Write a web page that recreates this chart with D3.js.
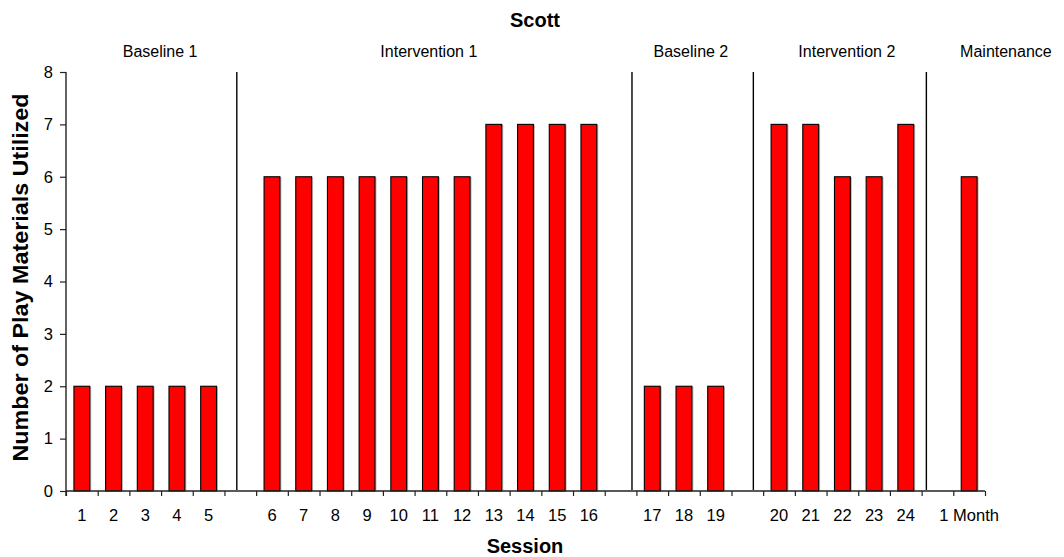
<!DOCTYPE html>
<html>
<head>
<meta charset="utf-8">
<script src="https://cdn.jsdelivr.net/npm/d3@7"></script>
<style>
  html, body { margin: 0; padding: 0; background: #fff; }
  text { font-family: "Liberation Sans", Arial, sans-serif; fill: #000; }
</style>
</head>
<body>
<svg id="chart" width="1064" height="557"></svg>
<script>
// ---- data ----
const chartTitle = "Scott";
const xTitle = "Session";
const yTitle = "Number of Play Materials Utilized";
// one slot per category; "" marks an empty gap slot between phases
const slotLabels = ["1","2","3","4","5","","6","7","8","9","10","11","12","13","14","15","16","","17","18","19","","20","21","22","23","24","","1 Month"];
const slotValues = [2,2,2,2,2,null,6,6,6,6,6,6,6,7,7,7,7,null,2,2,2,null,7,7,6,6,7,null,6];
const yTicks = [0,1,2,3,4,5,6,7,8];
const phaseNames = ["Baseline 1","Intervention 1","Baseline 2","Intervention 2","Maintenance"];
const phaseLabelAt = [2.97, 11.45, 19.72, 24.64, 29.66];   // in slot units
const phaseLineAt = [5.39, 17.86, 21.69, 27.15];           // in slot units

// ---- layout ----
const svg = d3.select("#chart");
const mLeft = 66, mRight = 985, mTop = 72, mBottom = 491;
const slotIdx = slotLabels.map((d, i) => i);

const x = d3.scaleBand().domain(slotIdx).range([mLeft, mRight]).paddingInner(0.5).paddingOuter(0.25);
const xs = d3.scaleLinear().domain([0, slotLabels.length]).range([mLeft, mRight]);
const y = d3.scaleLinear().domain([0, 8]).range([mBottom, mTop]);

// phase lines
svg.append("g").selectAll("line").data(phaseLineAt).join("line")
  .attr("x1", d => xs(d)).attr("x2", d => xs(d))
  .attr("y1", y(8)).attr("y2", y(0) - 1)
  .attr("stroke", "#000").attr("stroke-width", 1.4);

// bars (with faint shadow)
const bars = slotIdx.filter(i => slotValues[i] != null);
svg.append("g").selectAll("rect").data(bars).join("rect")
  .attr("x", i => x(i) + 1.5).attr("y", i => y(slotValues[i]) + 0.5)
  .attr("width", x.bandwidth()).attr("height", i => y(0) - y(slotValues[i]) - 0.5)
  .attr("fill", "#b8b8b8");
svg.append("g").selectAll("rect").data(bars).join("rect")
  .attr("x", i => x(i)).attr("y", i => y(slotValues[i]))
  .attr("width", x.bandwidth()).attr("height", i => y(0) - y(slotValues[i]))
  .attr("fill", "#ff0000").attr("stroke", "#000").attr("stroke-width", 1.1);

// y axis
const yAxis = svg.append("g").attr("transform", `translate(${mLeft},0)`)
  .call(d3.axisLeft(y).tickValues(yTicks).tickSize(6).tickPadding(7).tickFormat(d3.format("d")));
yAxis.select(".domain").attr("d", `M0,${mTop}V${mBottom + 5}`).attr("stroke", "#222").attr("stroke-width", 1.4);
yAxis.selectAll(".tick line").attr("stroke", "#222").attr("stroke-width", 1.2);
yAxis.selectAll("text").style("font-size", "16.5px").attr("fill", "#000");

// x axis: line + ticks at slot boundaries
const xAxis = svg.append("g").attr("transform", `translate(0,${mBottom})`)
  .call(d3.axisBottom(xs).tickValues(d3.range(0, slotLabels.length + 1)).tickSize(5).tickFormat(""));
xAxis.select(".domain").attr("d", `M${mLeft},0H${mRight}`).attr("stroke", "#222").attr("stroke-width", 1.4);
xAxis.selectAll(".tick line").attr("stroke", "#222").attr("stroke-width", 1.2);

// x tick labels (category names)
svg.append("g").selectAll("text").data(slotIdx.filter(i => slotLabels[i] !== "")).join("text")
  .attr("x", i => x(i) + x.bandwidth() / 2).attr("y", 521)
  .attr("text-anchor", "middle").style("font-size", "16.5px")
  .text(i => slotLabels[i]);

// phase labels
svg.append("g").selectAll("text").data(phaseNames).join("text")
  .attr("x", (d, i) => xs(phaseLabelAt[i])).attr("y", 57)
  .attr("text-anchor", "middle").style("font-size", "16px")
  .text(d => d);

// titles
svg.append("text").attr("x", 535).attr("y", 27).attr("text-anchor", "middle")
  .style("font-size", "20px").style("font-weight", "bold").text(chartTitle);
svg.append("text").attr("x", 525).attr("y", 553).attr("text-anchor", "middle")
  .style("font-size", "20px").style("font-weight", "bold").text(xTitle);
svg.append("text").attr("transform", "translate(27.5,277.5) rotate(-90)").attr("text-anchor", "middle")
  .style("font-size", "21.5px").style("font-weight", "bold")
  .attr("textLength", 368).attr("lengthAdjust", "spacingAndGlyphs").text(yTitle);
</script>
</body>
</html>
